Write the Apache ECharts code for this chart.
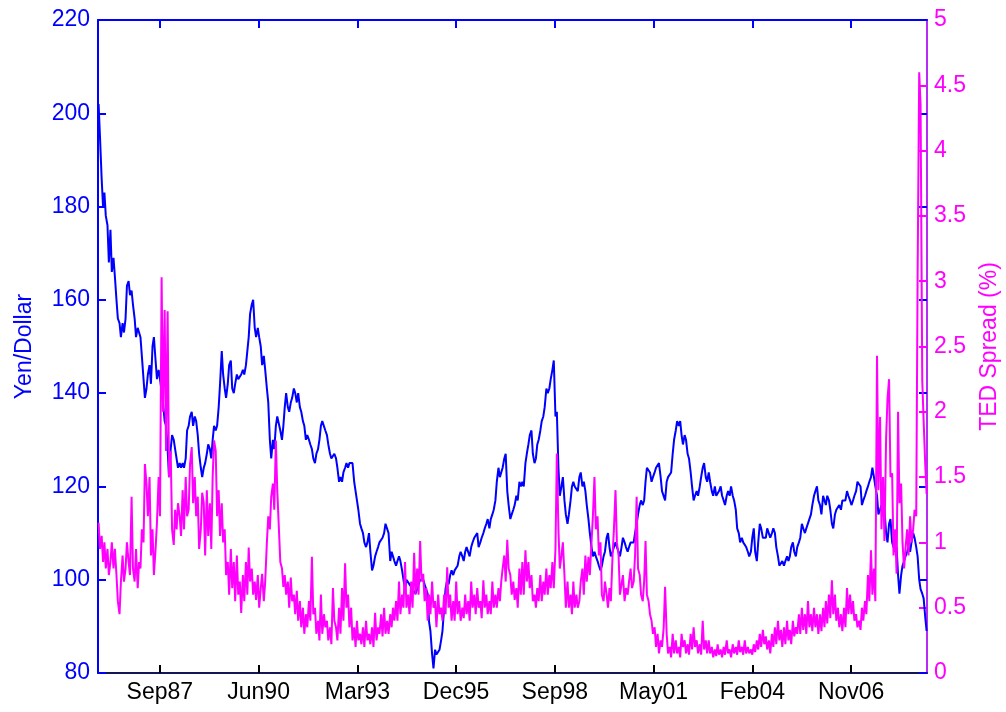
<!DOCTYPE html>
<html>
<head>
<meta charset="utf-8">
<title>Yen/Dollar and TED Spread</title>
<script src="https://cdn.jsdelivr.net/npm/echarts@6/dist/echarts.min.js"></script>
<style>
  html, body { margin: 0; padding: 0; background: #ffffff; }
  #chart { width: 1006px; height: 712px; }
</style>
</head>
<body>
<div id="chart"></div>
<script>
// Two readings per month (around the 8th and the 22nd), Jan 1986 - Dec 2008.
const firstYear = 1986;
const sampleDays = [8, 22];

// Yen per US dollar
const yenPerDollar = [
  /* 1986 */ 202,195, 186,180, 183,178, 176,168, 175,166, 169,165, 160,156, 155,152, 155,153, 156,163, 164,161, 162,159,
  /* 1987 */ 156,152, 154,153, 152,148, 143,139, 141,144, 146,142, 150,152, 147,143, 145,143, 143,138, 134,133, 128,122,
  /* 1988 */ 128,131, 130,128, 128,124, 125,124, 125,124, 126,132, 133,135, 136,133, 135,134, 131,127, 124,122, 124,125,
  /* 1989 */ 127,129, 128,126, 130,133, 132,133, 137,142, 149,144, 141,139, 142,146, 147,141, 140,142, 144,143, 143,144,
  /* 1990 */ 145,144, 146,149, 152,157, 159,160, 154,152, 154,152, 150,146, 148,145, 141,138, 130,126, 130,128, 133,135,
  /* 1991 */ 135,132, 130,133, 137,140, 137,136, 138,139, 141,140, 138,140, 137,136, 134,133, 130,131, 130,129, 128,126,
  /* 1992 */ 125,127, 128,130, 133,134, 134,132, 131,129, 127,126, 126,127, 126,124, 121,122, 121,123, 124,125, 124,125,
  /* 1993 */ 125,125, 121,119, 117,115, 112,111, 110,108, 107,108, 110,106, 102,103, 105,106, 107,108, 108,109, 110,112,
  /* 1994 */ 112,110, 104,106, 105,104, 103,104, 105,104, 102,100, 98,100, 100,99, 99,98, 98,97, 98,99, 100,100,
  /* 1995 */ 100,99, 99,97, 91,89, 84,81, 85,84, 84,85, 87,89, 94,98, 100,99, 101,102, 101,102, 102,103,
  /* 1996 */ 105,106, 105,104, 106,107, 107,105, 107,108, 109,109, 110,107, 108,109, 110,111, 112,113, 111,113, 114,115,
  /* 1997 */ 117,121, 124,122, 122,124, 126,127, 119,116, 113,114, 115,116, 118,117, 121,120, 121,120, 125,127, 129,131,
  /* 1998 */ 132,127, 125,126, 129,130, 132,134, 135,137, 141,140, 141,143, 145,147, 135,136, 124,118, 120,122, 117,114,
  /* 1999 */ 112,114, 117,120, 121,120, 120,119, 122,123, 120,121, 119,116, 113,110, 107,105, 106,105, 104,103, 102,103,
  /* 2000 */ 105,106, 109,110, 107,105, 106,107, 108,107, 106,105, 107,109, 108,107, 106,107, 108,108, 108,110, 112,114,
  /* 2001 */ 116,117, 116,117, 121,124, 124,123, 121,122, 123,124, 124,125, 122,119, 119,117, 121,122, 122,123, 127,130,
  /* 2002 */ 132,134, 133,134, 131,129, 131,130, 127,126, 123,120, 117,118, 119,118, 120,122, 124,125, 122,121, 123,121,
  /* 2003 */ 119,118, 120,118, 118,119, 120,118, 117,116, 118,119, 118,120, 118,117, 115,111, 110,108, 109,108, 108,107,
  /* 2004 */ 106,105, 106,109, 111,106, 104,108, 112,111, 109,109, 109,111, 111,109, 110,111, 110,107, 105,103, 103,104,
  /* 2005 */ 103,104, 105,104, 105,107, 108,106, 105,107, 108,109, 112,111, 110,111, 111,113, 114,116, 118,119, 120,117,
  /* 2006 */ 116,114, 118,117, 116,118, 117,115, 112,111, 114,115, 115,116, 115,117, 117,117, 119,118, 117,116, 117,118,
  /* 2007 */ 119,121, 121,120, 116,117, 118,119, 120,121, 122,124, 122,120, 118,114, 115,116, 116,115, 110,108, 112,113,
  /* 2008 */ 108,107, 106,107, 101,97, 101,103, 104,105, 106,107, 106,108, 110,109, 107,105, 100,98, 97,96, 92,89
];

// TED spread, percent
const tedSpread = [
  /* 1986 */ 1.15,0.95, 1.05,0.85, 1.0,0.8, 0.95,0.75, 0.85,1.0, 0.8,0.95, 0.75,0.55, 0.45,0.7, 0.9,0.7, 0.8,1.0, 0.85,0.75, 1.35,0.8,
  /* 1987 */ 0.7,0.95, 0.65,0.85, 0.8,1.1, 1.0,1.6, 1.45,1.2, 1.5,0.9, 1.1,0.75, 0.95,1.15, 1.5,1.2, 3.03,2.0, 2.78,1.7, 2.77,1.5,
  /* 1988 */ 1.7,1.1, 0.98,1.25, 1.1,1.3, 1.2,1.05, 1.4,1.1, 1.5,1.2, 1.25,1.6, 1.73,1.3, 1.5,1.2, 1.35,0.95, 1.1,1.38, 1.3,0.9,
  /* 1989 */ 1.4,1.05, 1.3,0.95, 1.5,1.78, 1.7,1.2, 1.4,1.05, 1.3,1.0, 1.1,0.75, 0.85,0.6, 0.95,0.65, 0.85,0.55, 0.9,0.6, 0.7,0.46,
  /* 1990 */ 0.75,0.55, 0.85,0.6, 0.96,0.7, 0.8,0.6, 0.7,0.56, 0.75,0.5, 0.65,0.76, 0.55,0.7, 1.0,1.2, 1.1,1.35, 1.45,1.25, 1.78,1.4,
  /* 1991 */ 1.1,0.85, 0.8,0.66, 0.75,0.6, 0.7,0.5, 0.73,0.55, 0.6,0.45, 0.63,0.4, 0.55,0.35, 0.5,0.3, 0.45,0.35, 0.55,0.4, 0.89,0.45,
  /* 1992 */ 0.5,0.3, 0.4,0.25, 0.6,0.3, 0.45,0.35, 0.4,0.25, 0.35,0.22, 0.65,0.4, 0.35,0.25, 0.5,0.3, 0.65,0.4, 0.84,0.5, 0.6,0.35,
  /* 1993 */ 0.5,0.25, 0.35,0.2, 0.4,0.25, 0.3,0.22, 0.35,0.2, 0.4,0.25, 0.3,0.22, 0.35,0.2, 0.46,0.25, 0.35,0.3, 0.45,0.28, 0.5,0.3,
  /* 1994 */ 0.4,0.3, 0.45,0.35, 0.5,0.4, 0.55,0.4, 0.7,0.45, 0.6,0.5, 0.85,0.5, 0.6,0.45, 0.7,0.5, 0.92,0.6, 0.8,0.6, 1.01,0.7,
  /* 1995 */ 0.76,0.55, 0.65,0.4, 0.6,0.45, 0.7,0.5, 0.55,0.35, 0.6,0.45, 0.5,0.4, 0.6,0.45, 0.81,0.5, 0.6,0.4, 0.55,0.4, 0.7,0.45,
  /* 1996 */ 0.55,0.4, 0.5,0.42, 0.6,0.45, 0.55,0.4, 0.7,0.5, 0.6,0.45, 0.65,0.5, 0.55,0.42, 0.71,0.5, 0.6,0.45, 0.55,0.45, 0.7,0.5,
  /* 1997 */ 0.6,0.5, 0.65,0.55, 0.7,0.8, 0.9,0.7, 1.02,0.8, 0.75,0.6, 0.7,0.56, 0.65,0.5, 0.8,0.6, 0.85,0.6, 0.94,0.7, 0.85,0.65,
  /* 1998 */ 0.75,0.55, 0.6,0.5, 0.65,0.55, 0.75,0.55, 0.7,0.6, 0.8,0.6, 0.75,0.65, 0.85,0.65, 0.95,1.68, 1.1,0.8, 0.9,1.0, 0.75,0.5,
  /* 1999 */ 0.7,0.5, 0.6,0.45, 0.7,0.5, 0.6,0.5, 0.55,0.7, 0.8,0.6, 0.9,0.7, 0.89,0.75, 1.0,1.2, 1.5,1.1, 1.2,0.9, 1.0,0.6,
  /* 2000 */ 0.55,0.7, 0.6,0.5, 0.65,0.55, 0.9,1.1, 1.4,1.0, 0.9,0.6, 0.6,0.75, 0.55,0.65, 0.6,0.7, 0.8,0.65, 0.7,0.9, 1.35,0.8,
  /* 2001 */ 0.75,0.6, 0.55,0.7, 1.01,0.6, 0.55,0.45, 0.4,0.3, 0.35,0.2, 0.3,0.15, 0.25,0.2, 0.35,0.66, 0.3,0.15, 0.2,0.12, 0.3,0.15,
  /* 2002 */ 0.25,0.15, 0.2,0.12, 0.3,0.2, 0.25,0.15, 0.22,0.14, 0.3,0.18, 0.35,0.2, 0.25,0.15, 0.22,0.14, 0.4,0.18, 0.25,0.15, 0.25,0.15,
  /* 2003 */ 0.2,0.12, 0.18,0.13, 0.22,0.14, 0.18,0.12, 0.2,0.14, 0.25,0.15, 0.18,0.12, 0.22,0.15, 0.2,0.14, 0.25,0.16, 0.2,0.14, 0.25,0.15,
  /* 2004 */ 0.2,0.15, 0.18,0.14, 0.22,0.16, 0.25,0.18, 0.3,0.2, 0.33,0.22, 0.28,0.18, 0.25,0.15, 0.3,0.2, 0.35,0.22, 0.4,0.25, 0.33,0.2,
  /* 2005 */ 0.35,0.22, 0.4,0.25, 0.33,0.22, 0.4,0.28, 0.35,0.3, 0.45,0.3, 0.5,0.33, 0.45,0.3, 0.55,0.35, 0.45,0.32, 0.5,0.35, 0.45,0.3,
  /* 2006 */ 0.45,0.32, 0.5,0.35, 0.55,0.38, 0.6,0.42, 0.71,0.45, 0.6,0.4, 0.5,0.35, 0.45,0.32, 0.5,0.35, 0.65,0.45, 0.6,0.45, 0.55,0.4,
  /* 2007 */ 0.45,0.35, 0.4,0.33, 0.5,0.4, 0.55,0.45, 0.75,0.55, 0.94,0.6, 0.8,0.55, 2.43,1.4, 1.96,1.1, 1.5,1.01, 1.8,2.1, 2.25,1.5,
  /* 2008 */ 1.53,0.9, 1.1,0.76, 2.0,1.3, 1.45,1.0, 0.8,0.95, 1.1,0.9, 1.2,1.0, 1.1,1.25, 1.2,3.06, 4.6,4.35, 2.24,1.93, 1.6,1.37
];

// Date ticks along the time axis and their labels
const tickDates = ['1987-09-20', '1990-06-16', '1993-03-12', '1995-12-07', '1998-09-02', '2001-05-29', '2004-02-23', '2006-11-19'];
const tickLabels = ['Sep87', 'Jun90', 'Mar93', 'Dec95', 'Sep98', 'May01', 'Feb04', 'Nov06'];

const xStart = '1986-01-02';
const xEnd = '2008-12-26';

function toTime(s) {
  const p = s.split('-').map(Number);
  return Date.UTC(p[0], p[1] - 1, p[2]);
}

function sampleTime(i) {
  const month = Math.floor(i / 2);
  const year = firstYear + Math.floor(month / 12);
  return Date.UTC(year, month % 12, sampleDays[i % 2]);
}

const yenData = yenPerDollar.map((v, i) => [sampleTime(i), v]);
const tedData = tedSpread.map((v, i) => [sampleTime(i), v]);

const tickTimes = tickDates.map(toTime);

function dateLabel(v) {
  let best = 0;
  for (let i = 1; i < tickTimes.length; i++) {
    if (Math.abs(tickTimes[i] - v) < Math.abs(tickTimes[best] - v)) best = i;
  }
  return tickLabels[best];
}

const FONT = "'Liberation Sans', Arial, Helvetica, sans-serif";
const BLUE = '#0000ff';
const MAGENTA = '#ff00ff';

const chart = echarts.init(document.getElementById('chart'), null, { renderer: 'canvas' });

chart.setOption({
  animation: false,
  backgroundColor: '#ffffff',
  textStyle: { fontFamily: FONT },
  grid: { left: 98, right: 79, top: 20, bottom: 39, containLabel: false, outerBoundsMode: 'none' },
  xAxis: [
    {
      type: 'value',
      position: 'bottom',
      min: toTime(xStart),
      max: toTime(xEnd),
      axisLine: { show: true, lineStyle: { color: '#15155a', width: 2 } },
      axisTick: { show: true, inside: true, length: 8, customValues: tickTimes, lineStyle: { color: '#000000', width: 2 } },
      axisLabel: {
        show: true,
        customValues: tickTimes,
        formatter: (v) => dateLabel(v),
        color: '#000000',
        fontSize: 23,
        fontFamily: FONT,
        margin: 8
      },
      splitLine: { show: false }
    },
    {
      type: 'value',
      position: 'top',
      min: toTime(xStart),
      max: toTime(xEnd),
      axisLine: { show: true, lineStyle: { color: BLUE, width: 2 } },
      axisTick: { show: true, inside: true, length: 8, customValues: tickTimes, lineStyle: { color: BLUE, width: 2 } },
      axisLabel: { show: false },
      splitLine: { show: false }
    }
  ],
  yAxis: [
    {
      type: 'value',
      position: 'left',
      min: 80,
      max: 220,
      interval: 20,
      name: 'Yen/Dollar',
      nameLocation: 'middle',
      nameRotate: 90,
      nameGap: 62,
      nameTextStyle: { color: BLUE, fontSize: 23, fontFamily: FONT },
      axisLine: { show: true, lineStyle: { color: BLUE, width: 2 } },
      axisTick: { show: true, inside: true, length: 8, lineStyle: { color: BLUE, width: 2 } },
      axisLabel: { color: BLUE, fontSize: 23, fontFamily: FONT, margin: 8 },
      splitLine: { show: false }
    },
    {
      type: 'value',
      position: 'right',
      min: 0,
      max: 5,
      interval: 0.5,
      name: 'TED Spread (%)',
      nameLocation: 'middle',
      nameRotate: 90,
      nameGap: 51,
      nameTextStyle: { color: MAGENTA, fontSize: 23, fontFamily: FONT },
      axisLine: { show: true, lineStyle: { color: '#b52cf5', width: 2 } },
      axisTick: { show: true, inside: true, length: 8, lineStyle: { color: MAGENTA, width: 2 } },
      axisLabel: { color: MAGENTA, fontSize: 23, fontFamily: FONT, margin: 7 },
      splitLine: { show: false }
    },
    {
      // yen ticks repeated along the right edge
      type: 'value',
      position: 'right',
      min: 80,
      max: 220,
      interval: 20,
      axisLine: { show: false },
      axisTick: { show: true, inside: true, length: 8, lineStyle: { color: BLUE, width: 2 } },
      axisLabel: { show: false },
      splitLine: { show: false }
    }
  ],
  series: [
    {
      name: 'Yen/Dollar',
      type: 'line',
      xAxisIndex: 0,
      yAxisIndex: 0,
      data: yenData,
      showSymbol: false,
      symbol: 'none',
      lineStyle: { color: BLUE, width: 2 },
      itemStyle: { color: BLUE },
      z: 2
    },
    {
      name: 'TED Spread (%)',
      type: 'line',
      xAxisIndex: 0,
      yAxisIndex: 1,
      data: tedData,
      showSymbol: false,
      symbol: 'none',
      lineStyle: { color: MAGENTA, width: 2 },
      itemStyle: { color: MAGENTA },
      z: 3
    }
  ]
});
</script>
</body>
</html>
